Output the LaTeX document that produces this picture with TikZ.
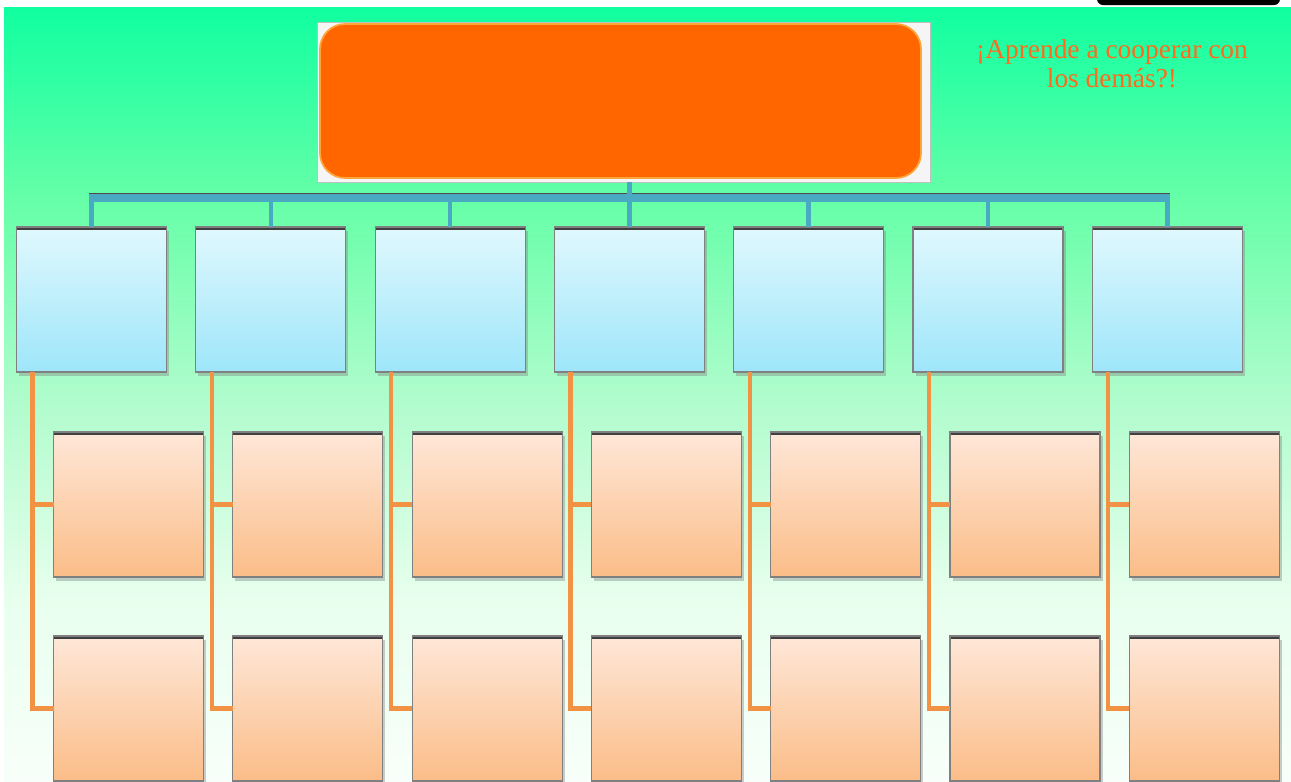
\documentclass[tikz,border=0pt]{standalone}
\usepackage{fontspec}
\setmainfont{Liberation Serif}
\usetikzlibrary{positioning, shadows}

\definecolor{bgtop}{HTML}{10FFA0}
\definecolor{bgup}{HTML}{66FFA8}
\definecolor{bgmid}{HTML}{B0FCCC}
\definecolor{bglow}{HTML}{E8FFEE}
\definecolor{bgbot}{HTML}{F8FFFA}
\definecolor{titleorange}{HTML}{FF6600}
\definecolor{titleedge}{HTML}{FFA63A}
\definecolor{busteal}{HTML}{4AA9C3}
\definecolor{spineorange}{HTML}{F29244}
\definecolor{bluetop}{HTML}{E0F8FD}
\definecolor{bluebot}{HTML}{9EE6FA}
\definecolor{peachtop}{HTML}{FEE7D8}
\definecolor{peachbot}{HTML}{FBBD88}
\definecolor{mottoorange}{HTML}{FF6A1C}

\pgfdeclareverticalshading{backdrop}{100bp}{color(0bp)=(bgbot); color(25bp)=(bgbot);
  color(36.75bp)=(bglow); color(49.65bp)=(bgmid); color(62.55bp)=(bgup);
  color(75bp)=(bgtop); color(100bp)=(bgtop)}

\begin{document}
\begin{tikzpicture}[
    node distance=.586cm,
    box/.style={rectangle, draw=black!50, line width=.6pt, minimum width=3cm, minimum height=2.9cm,
      inner sep=0pt, outer sep=0pt,
      drop shadow={shadow xshift=.05cm, shadow yshift=-.08cm, opacity=.4},
      path picture={\draw[black!75, line width=.11cm] (path picture bounding box.north west) -- (path picture bounding box.north east);}},
    theme/.style={box, top color=bluetop, bottom color=bluebot},
    item/.style={box, top color=peachtop, bottom color=peachbot},
    bus/.style={busteal, line width=.15cm},
    stem/.style={busteal, line width=.09cm},
    spine/.style={spineorange, line width=.085cm}
]

% Page and background
\useasboundingbox (0,0) rectangle (25.82,-15.64);
\shade[shading=backdrop] (.08,-.14) rectangle (25.82,-15.64);
\fill[black, rounded corners=.12cm] (21.94,.3) rectangle (25.6,-.1);

% Title
\node[rectangle, draw=black!25, fill=black!4, minimum width=12.26cm, minimum height=3.2cm, outer sep=0pt] (Frame) at (12.47,-2.04) {};
\node[rectangle, rounded corners=.5cm, fill=titleorange, draw=titleedge, line width=1pt,
  minimum width=12.02cm, minimum height=3.08cm] (Title) at (12.41,-2.02) {};
\node[mottoorange, font=\fontsize{15.6}{16.6}\selectfont, align=center] (Motto) at (22.24,-1.27)
  {¡Aprende a cooperar con\\los demás?!};

% Themes (blue row)
\node[theme] (K1) at (1.83,-5.99) {};
\node[theme, right=of K1] (K2) {};
\node[theme, right=of K2] (K3) {};
\node[theme, right=of K3] (K4) {};
\node[theme, right=of K4] (K5) {};
\node[theme, right=of K5] (K6) {};
\node[theme, right=of K6] (K7) {};

% Items (first orange row)
\node[item, below=1.2cm of K1, xshift=.74cm] (P1) {};
\node[item, below=1.2cm of K2, xshift=.74cm] (P2) {};
\node[item, below=1.2cm of K3, xshift=.74cm] (P3) {};
\node[item, below=1.2cm of K4, xshift=.74cm] (P4) {};
\node[item, below=1.2cm of K5, xshift=.74cm] (P5) {};
\node[item, below=1.2cm of K6, xshift=.74cm] (P6) {};
\node[item, below=1.2cm of K7, xshift=.74cm] (P7) {};

% Items (second orange row)
\node[item, below=1.18cm of P1] (Q1) {};
\node[item, below=1.18cm of P2] (Q2) {};
\node[item, below=1.18cm of P3] (Q3) {};
\node[item, below=1.18cm of P4] (Q4) {};
\node[item, below=1.18cm of P5] (Q5) {};
\node[item, below=1.18cm of P6] (Q6) {};
\node[item, below=1.18cm of P7] (Q7) {};

% Bus from title to themes
\coordinate (Bus) at (0,-3.96);
\draw[black!70, line width=.03cm] ([xshift=-.045cm, yshift=.09cm]K1.north |- Bus) -- ([xshift=.045cm, yshift=.09cm]K7.north |- Bus);
\draw[bus] ([xshift=-.045cm]K1.north |- Bus) -- ([xshift=.045cm]K7.north |- Bus);
\draw[stem] (Frame.south -| K4.north) -- (K4.north);
\draw[stem] (K1.north |- Bus) -- (K1.north);
\draw[stem] (K2.north |- Bus) -- (K2.north);
\draw[stem] (K3.north |- Bus) -- (K3.north);
\draw[stem] (K5.north |- Bus) -- (K5.north);
\draw[stem] (K6.north |- Bus) -- (K6.north);
\draw[stem] (K7.north |- Bus) -- (K7.north);

% Spines from themes to items
\draw[spine] ([xshift=.32cm]K1.south west) |- (Q1.west);
\draw[spine] ([xshift=.32cm]K1.south west) |- (P1.west);
\draw[spine] ([xshift=.32cm]K2.south west) |- (Q2.west);
\draw[spine] ([xshift=.32cm]K2.south west) |- (P2.west);
\draw[spine] ([xshift=.32cm]K3.south west) |- (Q3.west);
\draw[spine] ([xshift=.32cm]K3.south west) |- (P3.west);
\draw[spine] ([xshift=.32cm]K4.south west) |- (Q4.west);
\draw[spine] ([xshift=.32cm]K4.south west) |- (P4.west);
\draw[spine] ([xshift=.32cm]K5.south west) |- (Q5.west);
\draw[spine] ([xshift=.32cm]K5.south west) |- (P5.west);
\draw[spine] ([xshift=.32cm]K6.south west) |- (Q6.west);
\draw[spine] ([xshift=.32cm]K6.south west) |- (P6.west);
\draw[spine] ([xshift=.32cm]K7.south west) |- (Q7.west);
\draw[spine] ([xshift=.32cm]K7.south west) |- (P7.west);

\end{tikzpicture}
\end{document}
